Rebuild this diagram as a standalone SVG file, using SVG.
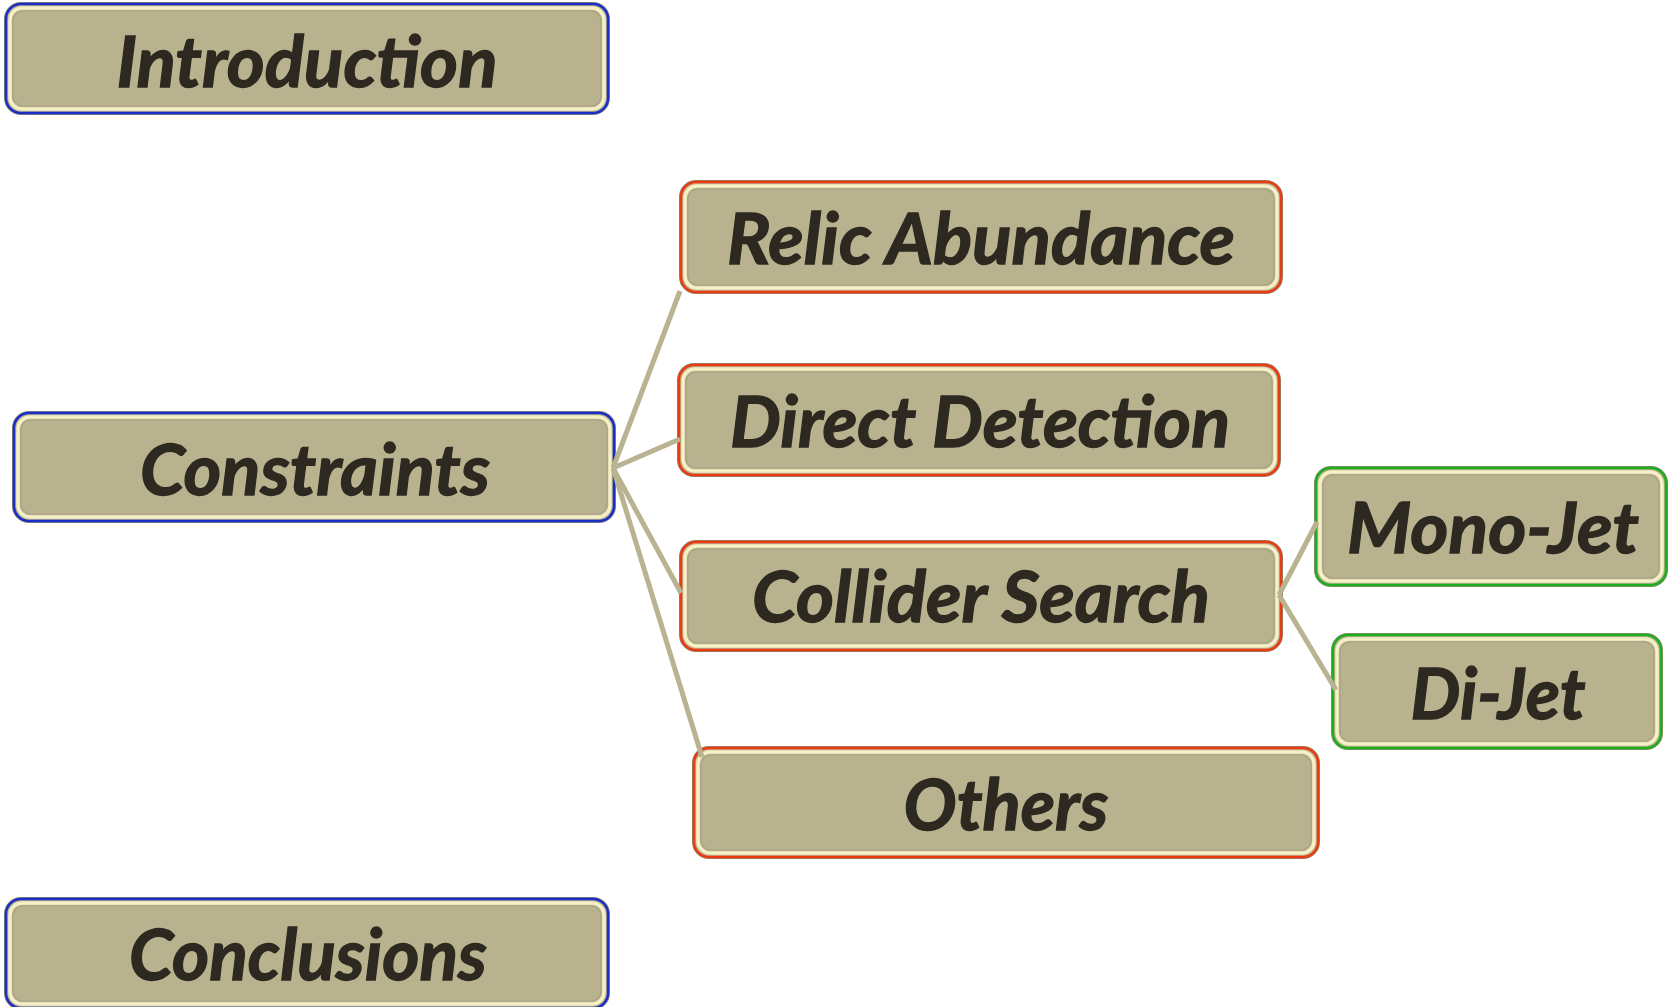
<svg xmlns="http://www.w3.org/2000/svg" width="1668" height="1007" viewBox="0 0 1668 1007">
<style>
.sh{fill:none;stroke:#8d8870;stroke-width:4}
.bl{stroke:#1a2ec8}
.rd{stroke:#ec3a12}
.gr{stroke:#1fae1f}
.ol{fill:#b9b28f;stroke-width:2.5}
.in{fill:#b9b28f;stroke:#f6f0c6;stroke-width:3.5}
.bv{fill:none;stroke:#a9a385;stroke-width:1.2}
.t{font-family:Lato,"Open Sans","DejaVu Sans",sans-serif;font-weight:bold;font-style:italic;font-size:70px;fill:#2d2920;stroke:#2d2920;stroke-width:1.3;text-anchor:middle}
.c{stroke:#b9b391;stroke-width:5;fill:none;stroke-linecap:butt}
</style>
<g id="introduction">
<rect class="sh" x="6" y="4" width="602" height="109" rx="15"/>
<rect class="ol bl" x="6" y="4" width="602" height="109" rx="15"/>
<rect class="in" x="10" y="8" width="594" height="101" rx="12"/>
<rect class="bv" x="13" y="11" width="588" height="95" rx="10"/>
<text class="t" x="307" y="87" textLength="381" lengthAdjust="spacingAndGlyphs">Introduction</text>
</g>
<g id="constraints">
<rect class="sh" x="14" y="413" width="600" height="108" rx="15"/>
<rect class="ol bl" x="14" y="413" width="600" height="108" rx="15"/>
<rect class="in" x="18" y="417" width="592" height="100" rx="12"/>
<rect class="bv" x="21" y="420" width="586" height="94" rx="10"/>
<text class="t" x="315" y="495" textLength="350" lengthAdjust="spacingAndGlyphs">Constraints</text>
</g>
<g id="conclusions">
<rect class="sh" x="6" y="899" width="602" height="109" rx="15"/>
<rect class="ol bl" x="6" y="899" width="602" height="109" rx="15"/>
<rect class="in" x="10" y="903" width="594" height="101" rx="12"/>
<rect class="bv" x="13" y="906" width="588" height="95" rx="10"/>
<text class="t" x="308" y="980" textLength="358" lengthAdjust="spacingAndGlyphs">Conclusions</text>
</g>
<g id="relic-abundance">
<rect class="sh" x="681" y="182" width="600" height="110" rx="15"/>
<rect class="ol rd" x="681" y="182" width="600" height="110" rx="15"/>
<rect class="in" x="685" y="186" width="592" height="102" rx="12"/>
<rect class="bv" x="688" y="189" width="586" height="96" rx="10"/>
<text class="t" x="981" y="264" textLength="508" lengthAdjust="spacingAndGlyphs">Relic Abundance</text>
</g>
<g id="direct-detection">
<rect class="sh" x="679" y="365" width="600" height="110" rx="15"/>
<rect class="ol rd" x="679" y="365" width="600" height="110" rx="15"/>
<rect class="in" x="683" y="369" width="592" height="102" rx="12"/>
<rect class="bv" x="686" y="372" width="586" height="96" rx="10"/>
<text class="t" x="980" y="447" textLength="500" lengthAdjust="spacingAndGlyphs">Direct Detection</text>
</g>
<g id="collider-search">
<rect class="sh" x="681" y="542" width="600" height="108" rx="15"/>
<rect class="ol rd" x="681" y="542" width="600" height="108" rx="15"/>
<rect class="in" x="685" y="546" width="592" height="100" rx="12"/>
<rect class="bv" x="688" y="549" width="586" height="94" rx="10"/>
<text class="t" x="981" y="622" textLength="458" lengthAdjust="spacingAndGlyphs">Collider Search</text>
</g>
<g id="others">
<rect class="sh" x="694" y="748" width="624" height="109" rx="15"/>
<rect class="ol rd" x="694" y="748" width="624" height="109" rx="15"/>
<rect class="in" x="698" y="752" width="616" height="101" rx="12"/>
<rect class="bv" x="701" y="755" width="610" height="95" rx="10"/>
<text class="t" x="1006" y="830" textLength="205" lengthAdjust="spacingAndGlyphs">Others</text>
</g>
<g id="mono-jet">
<rect class="sh" x="1316" y="468" width="350" height="117" rx="15"/>
<rect class="ol gr" x="1316" y="468" width="350" height="117" rx="15"/>
<rect class="in" x="1320" y="472" width="342" height="109" rx="12"/>
<rect class="bv" x="1323" y="475" width="336" height="103" rx="10"/>
<text class="t" x="1493" y="553" textLength="292" lengthAdjust="spacingAndGlyphs">Mono-Jet</text>
</g>
<g id="di-jet">
<rect class="sh" x="1333" y="635" width="328" height="113" rx="15"/>
<rect class="ol gr" x="1333" y="635" width="328" height="113" rx="15"/>
<rect class="in" x="1337" y="639" width="320" height="105" rx="12"/>
<rect class="bv" x="1340" y="642" width="314" height="99" rx="10"/>
<text class="t" x="1498" y="719" textLength="175" lengthAdjust="spacingAndGlyphs">Di-Jet</text>
</g>
<g id="connectors">
<line class="c" x1="613" y1="468" x2="680" y2="291"/>
<line class="c" x1="613" y1="468" x2="680" y2="439"/>
<line class="c" x1="613" y1="468" x2="681" y2="593"/>
<line class="c" x1="613" y1="468" x2="702" y2="757"/>
<line class="c" x1="1279" y1="595" x2="1317" y2="522"/>
<line class="c" x1="1279" y1="595" x2="1336" y2="690"/>
</g>
</svg>
